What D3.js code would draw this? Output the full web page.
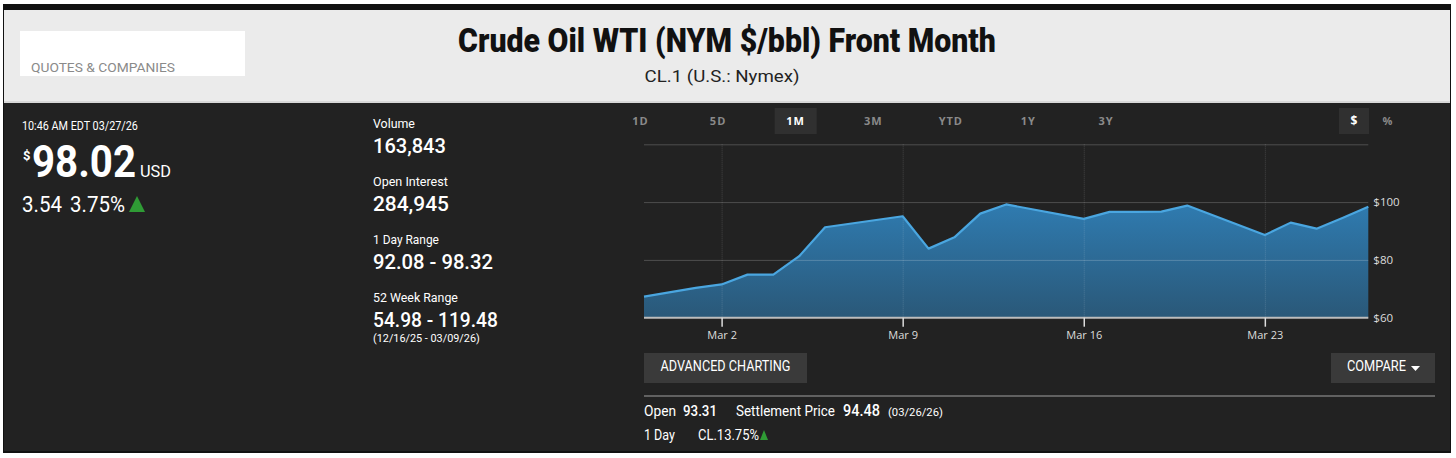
<!DOCTYPE html>
<html>
<head>
<meta charset="utf-8">
<title>Crude Oil WTI Front Month</title>
<script src="https://d3js.org/d3.v7.min.js"></script>
<style>
  body { margin: 0; background: #fff; }
  svg { display: block; }
  .cond { font-family: Roboto, "Noto Sans", sans-serif; }
  .chartfont { font-family: "Open Sans", "Noto Sans", sans-serif; }
</style>
</head>
<body>
<div id="quote"></div>
<script>
// price series, 1M view
var dates  = ["2026-02-27","2026-03-01","2026-03-02","2026-03-03","2026-03-04","2026-03-05","2026-03-06",
              "2026-03-09","2026-03-10","2026-03-11","2026-03-12","2026-03-13",
              "2026-03-16","2026-03-17","2026-03-18","2026-03-19","2026-03-20",
              "2026-03-23","2026-03-24","2026-03-25","2026-03-26","2026-03-27"];
var prices = [67.3, 70.3, 71.5, 74.9, 74.9, 81.3, 91.3,
              95.1, 83.9, 87.8, 96.0, 99.2,
              94.2, 96.6, 96.6, 96.7, 98.8,
              88.6, 92.9, 90.8, 94.5, 98.4];
var xTicks = ["2026-03-02","2026-03-09","2026-03-16","2026-03-23"];
var yTicks = [60, 80, 100];
var yGrid  = [80, 100, 120];
var rangeButtons = ["1D","5D","1M","3M","YTD","1Y","3Y"];
var activeRange = "1M";

var statLabels = ["Volume", "Open Interest", "1 Day Range", "52 Week Range"];
var statValues = ["163,843", "284,945", "92.08 - 98.32", "54.98 - 119.48"];
var statWidths = [[42, 73], [75, 76], [66, 120], [85, 125]];

var w = 1456, h = 458;
var parse = d3.utcParse("%Y-%m-%d");
var data = dates.map(function (d, i) { return { date: parse(d), price: prices[i] }; });

var svg = d3.select("#quote").append("svg")
  .attr("width", w)
  .attr("height", h);

// narrow fonts are faked by squeezing the text horizontally to the measured width
function txt(x, y, s, size, opts) {
  opts = opts || {};
  var t = svg.append("text")
    .attr("x", x).attr("y", y)
    .attr("class", opts.cls || "cond")
    .attr("font-size", size)
    .attr("font-weight", opts.weight || 400)
    .attr("fill", opts.fill || "#fff")
    .attr("text-anchor", opts.anchor || "start")
    .text(s);
  if (opts.family) t.attr("font-family", opts.family);
  if (opts.spacing) t.attr("letter-spacing", opts.spacing);
  if (opts.width) {
    var sx = opts.width / t.node().getComputedTextLength();
    t.attr("transform", "translate(" + x + "," + y + ") scale(" + sx + ",1) translate(" + (-x) + "," + (-y) + ")");
  }
  return t;
}

// frame + header
svg.append("rect").attr("x", 3).attr("y", 4).attr("width", 1448).attr("height", 449).attr("fill", "#111");
svg.append("rect").attr("x", 4).attr("y", 10).attr("width", 1446).attr("height", 91).attr("fill", "#ebebeb");
svg.append("rect").attr("x", 4).attr("y", 101).attr("width", 1446).attr("height", 2).attr("fill", "#d8d8d8");
svg.append("rect").attr("x", 4).attr("y", 103).attr("width", 1446).attr("height", 348).attr("fill", "#222");

svg.append("rect").attr("x", 20).attr("y", 31).attr("width", 225).attr("height", 45).attr("fill", "#fff");
txt(31, 72, "QUOTES & COMPANIES", 13.5, { fill: "#8a8a8a", width: 144 });

txt(727, 52, "Crude Oil WTI (NYM $/bbl) Front Month", 34, { cls: "", weight: 900, fill: "#111", anchor: "middle", width: 538,
  family: "Lato, 'Noto Sans', sans-serif" });
txt(722, 82, "CL.1 (U.S.: Nymex)", 16, { fill: "#222", anchor: "middle", width: 155 });

// left: last price
txt(22, 130, "10:46 AM EDT 03/27/26", 13, { width: 116 });
txt(23, 160, "$", 13, { weight: 700 });
txt(32, 177, "98.02", 45, { weight: 700, width: 104 });
txt(140, 177, "USD", 16, { width: 31 });
txt(22, 212, "3.54", 22, { width: 40 });
txt(70, 212, "3.75%", 22, { width: 55 });
svg.append("path").attr("d", d3.line()([[129, 212], [145, 212], [137, 196]]) + "Z").attr("fill", "#2f9b35");

// middle: stats
var statY = d3.scalePoint().domain(statLabels).range([128, 302]);
statLabels.forEach(function (lab, i) {
  var y0 = statY(lab);
  txt(373, y0, lab, 13, { width: statWidths[i][0] });
  txt(373, y0 + 25.5, statValues[i], 21, { weight: 500, width: statWidths[i][1] });
});
txt(373, 342, "(12/16/25 - 03/09/26)", 10.5, { width: 107 });

// range buttons
var btn = d3.scalePoint().domain(rangeButtons).range([640.5, 1106]);
svg.append("rect").attr("x", btn(activeRange) - 21).attr("y", 108).attr("width", 42).attr("height", 26).attr("fill", "#303030");
rangeButtons.forEach(function (r) {
  txt(btn(r), 125, r, 11, { cls: "chartfont", weight: 700, anchor: "middle", spacing: 1,
    fill: r === activeRange ? "#fff" : "#8a8a8a" });
});
svg.append("rect").attr("x", 1339).attr("y", 108).attr("width", 30).attr("height", 26).attr("fill", "#303030");
txt(1354, 125, "$", 12, { cls: "chartfont", weight: 700, anchor: "middle" });
txt(1387.5, 125, "%", 11, { cls: "chartfont", weight: 700, anchor: "middle", fill: "#8a8a8a" });

// chart
var x = d3.scaleUtc().domain([parse("2026-02-27"), parse("2026-03-27")]).range([644, 1368.3]);
var y = d3.scaleLinear().domain([60, 120]).range([317.7, 144.3]);

var defs = svg.append("defs");
var grad = defs.append("linearGradient").attr("id", "fillGrad")
  .attr("x1", 0).attr("x2", 0).attr("y1", 0).attr("y2", 1);
grad.append("stop").attr("offset", "0%").attr("stop-color", "#2f7bb0");
grad.append("stop").attr("offset", "100%").attr("stop-color", "#2a5878");

var area = d3.area().x(function (d) { return x(d.date); }).y0(y(60)).y1(function (d) { return y(d.price); });
var line = d3.line().x(function (d) { return x(d.date); }).y(function (d) { return y(d.price); });

svg.append("path").datum(data).attr("d", area).attr("fill", "url(#fillGrad)");

// gridlines
var gridY = svg.append("g").attr("transform", "translate(" + x.range()[0] + ",0)")
  .call(d3.axisRight(y).tickValues(yGrid).tickSize(x.range()[1] - x.range()[0]).tickFormat(""));
gridY.select(".domain").remove();
gridY.selectAll("line").attr("stroke", "rgba(255,255,255,0.2)");

var gridX = svg.append("g").attr("transform", "translate(0," + y(120) + ")")
  .call(d3.axisBottom(x).tickValues(xTicks.map(parse)).tickSize(y(60) - y(120)).tickFormat(""));
gridX.select(".domain").remove();
gridX.selectAll("line").attr("stroke", "rgba(255,255,255,0.16)").attr("stroke-dasharray", "1,1");

svg.append("path").datum(data).attr("d", line)
  .attr("fill", "none").attr("stroke", "#4aa6e0").attr("stroke-width", 2.2).attr("stroke-linejoin", "round");

// x axis
var xAxis = svg.append("g").attr("class", "chartfont").attr("transform", "translate(0," + y(60) + ")")
  .call(d3.axisBottom(x).tickValues(xTicks.map(parse)).tickSize(9).tickPadding(5).tickFormat(d3.utcFormat("%b %-d")));
xAxis.select(".domain").attr("stroke", "#bdbdbd").attr("stroke-width", 2).attr("d", "M" + x.range()[0] + ",0H" + x.range()[1]);
xAxis.selectAll(".tick line").attr("stroke", "#ddd").attr("stroke-width", 1.5);
xAxis.selectAll(".tick text").attr("fill", "#ddd").attr("font-size", 11).attr("font-family", "'Open Sans', sans-serif");

// y axis
var yAxis = svg.append("g").attr("class", "chartfont").attr("transform", "translate(" + x.range()[1] + ",0)")
  .call(d3.axisRight(y).tickValues(yTicks).tickSize(0).tickPadding(5).tickFormat(function (d) { return "$" + d; }));
yAxis.select(".domain").remove();
yAxis.selectAll(".tick text").attr("fill", "#ddd").attr("font-size", 11.5).attr("font-family", "'Open Sans', sans-serif");

// buttons under chart
svg.append("rect").attr("x", 644).attr("y", 353).attr("width", 163).attr("height", 30).attr("fill", "#3a3a3a");
txt(725.5, 371, "ADVANCED CHARTING", 14, { anchor: "middle", width: 130 });
svg.append("rect").attr("x", 1331).attr("y", 353).attr("width", 104).attr("height", 30).attr("fill", "#3a3a3a");
txt(1347, 371, "COMPARE", 14, { width: 59 });
svg.append("path").attr("d", d3.line()([[1411, 366], [1420, 366], [1415.5, 371]]) + "Z").attr("fill", "#fff");

svg.append("line").attr("x1", 644).attr("x2", 1435).attr("y1", 396).attr("y2", 396)
  .attr("stroke", "#777").attr("stroke-width", 1.5);

txt(644, 416, "Open", 14, { width: 32 });
txt(683, 416, "93.31", 15, { weight: 500, width: 34 });
txt(736, 416, "Settlement Price", 14, { width: 99 });
txt(843, 416, "94.48", 16, { weight: 500, width: 37 });
txt(888, 416, "(03/26/26)", 11, { width: 55 });
txt(644, 440, "1 Day", 14, { width: 31 });
txt(698, 440, "CL.13.75%", 14, { width: 61 });
svg.append("path").attr("d", d3.line()([[760, 440], [768, 440], [764, 430]]) + "Z").attr("fill", "#2f9b35");
</script>
</body>
</html>
